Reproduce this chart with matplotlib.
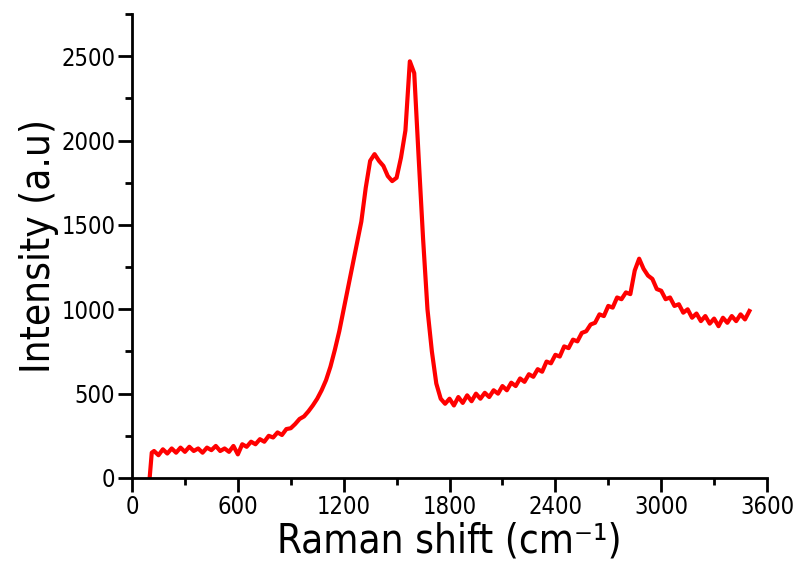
import matplotlib
matplotlib.use('Agg')
import matplotlib.pyplot as plt
from matplotlib import font_manager as fm
from matplotlib.ticker import MultipleLocator
import numpy as np

# Raman spectrum (cm-1, a.u.)
shift_start = [100, 112]
intensity_start = [0, 150]
shift_grid = np.arange(125, 3501, 25)
intensity_grid = [
    # 125 - 600
    160, 135, 170, 145, 175, 150, 180, 155, 185, 160, 175, 150, 180, 165, 190, 160, 175, 155, 190, 140,
    # 625 - 900
    200, 185, 215, 200, 230, 215, 250, 240, 270, 255, 290, 295,
    # 925 - 1200
    320, 350, 365, 395, 430, 470, 520, 580, 660, 760, 870, 1000,
    # 1225 - 1600 (D and G bands)
    1130, 1260, 1390, 1520, 1720, 1880, 1920, 1880, 1850, 1790, 1760, 1780, 1900, 2060, 2470, 2400,
    # 1625 - 1775
    1900, 1420, 1000, 750, 560, 470, 440,
    # 1800 - 2000
    470, 430, 480, 445, 490, 455, 500, 470, 505,
    # 2025 - 2800
    480, 520, 500, 545, 520, 565, 545, 590, 570, 615, 600, 645, 630, 690, 680, 730,
    720, 780, 770, 820, 810, 860, 870, 910, 920, 970, 960, 1020, 1010, 1070, 1060, 1100,
    # 2825 - 3500 (2D band)
    1090, 1230, 1300, 1240, 1200, 1180, 1120, 1110, 1060, 1070, 1020, 1030, 980, 1000,
    950, 975, 930, 960, 915, 945, 900, 950, 920, 960, 930, 970, 940, 990,
]

shift = np.concatenate([shift_start, shift_grid])
intensity = np.concatenate([intensity_start, intensity_grid])

# look for a narrow face, the original uses a tight geometric font
narrow_path = None
fonts = fm.fontManager.ttflist
for f in fonts:
    if f.name == 'Liberation Sans Narrow' and f.style == 'normal' and f.weight in (400, 'normal', 'regular'):
        narrow_path = f.fname
        break
if narrow_path is None:
    for fam in ['DejaVu Sans', 'Roboto', 'Open Sans', 'Noto Sans', 'Lato', 'Inter']:
        for f in fonts:
            if (f.name == fam and str(f.stretch) in ('condensed', 'semi-condensed')
                    and f.style == 'normal' and f.weight in (400, 'normal', 'regular', 'book')):
                narrow_path = f.fname
                break
        if narrow_path:
            break

if narrow_path:
    tick_fp = fm.FontProperties(fname=narrow_path, size=17)
    label_fp = fm.FontProperties(fname=narrow_path, size=29)
else:
    tick_fp = fm.FontProperties(family='DejaVu Sans', size=14)
    label_fp = fm.FontProperties(family='DejaVu Sans', size=23)

fig = plt.figure(figsize=(8.01, 5.64), dpi=100)
ax = fig.add_axes([0.1648, 0.1525, 0.7928, 0.8225])

ax.plot(shift, intensity, color='#ff0000', lw=3)

ax.set_xlim(0, 3600)
ax.set_ylim(0, 2750)
ax.xaxis.set_major_locator(MultipleLocator(600))
ax.xaxis.set_minor_locator(MultipleLocator(300))
ax.yaxis.set_major_locator(MultipleLocator(500))
ax.yaxis.set_minor_locator(MultipleLocator(250))

for side in ['top', 'right']:
    ax.spines[side].set_visible(False)
for side in ['left', 'bottom']:
    ax.spines[side].set_linewidth(2)

ax.tick_params(which='major', direction='out', length=10, width=2, pad=2)
ax.tick_params(which='minor', direction='out', length=5, width=2)
for lbl in ax.get_xticklabels() + ax.get_yticklabels():
    lbl.set_fontproperties(tick_fp)

ax.set_xlabel('Raman shift (cm\u207b\u00b9)', fontproperties=label_fp, labelpad=2)
ax.set_ylabel('Intensity (a.u)', fontproperties=label_fp, labelpad=2)

fig.savefig('out.png', dpi=100)
